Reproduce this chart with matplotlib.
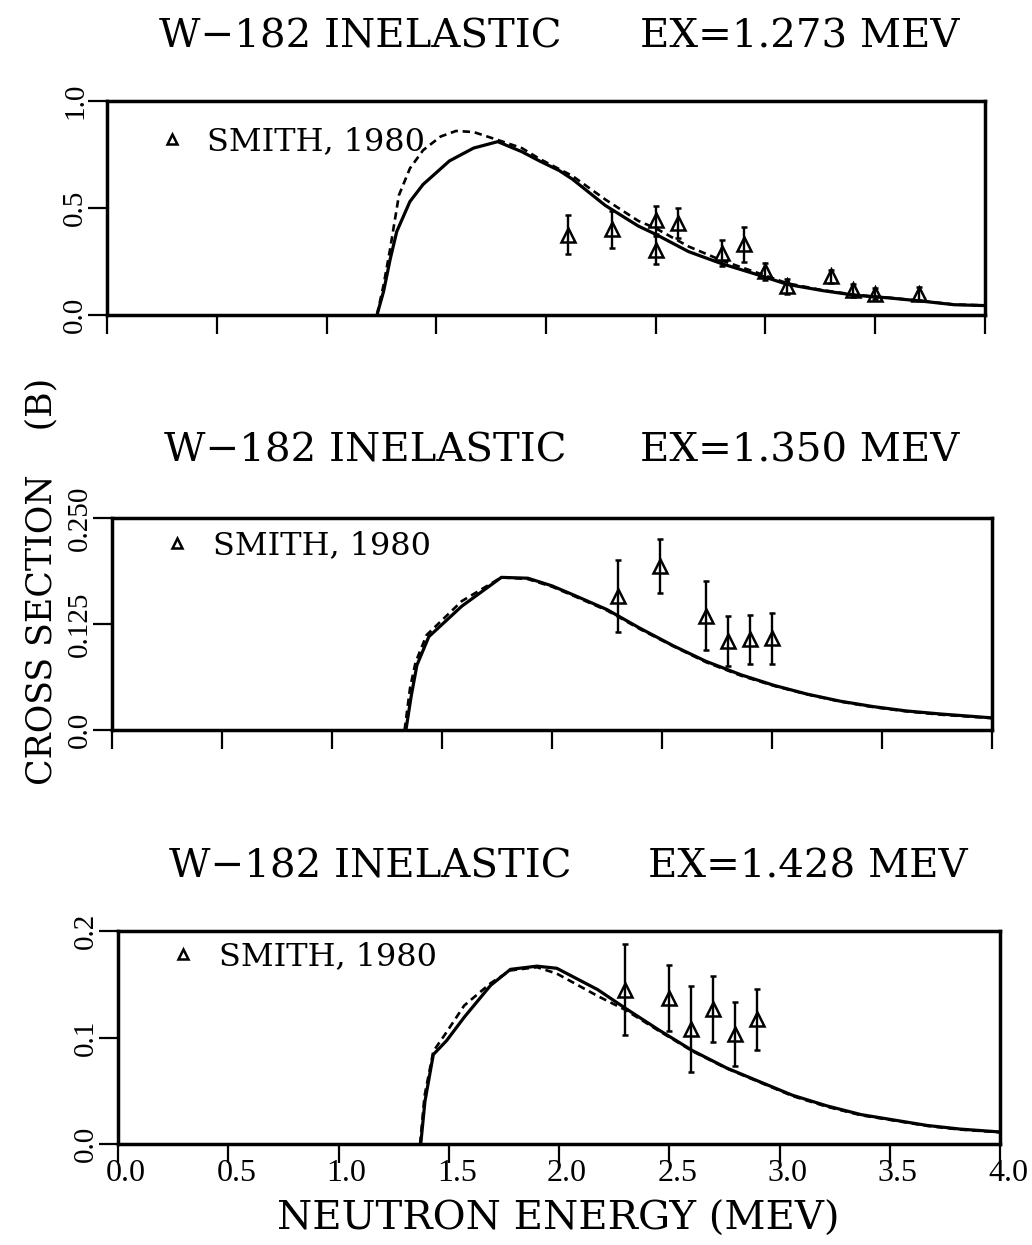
"""W-182 inelastic cross sections for three excitation levels, compared with Smith 1980."""

import matplotlib
matplotlib.use("Agg")
import matplotlib.pyplot as plt
from matplotlib.lines import Line2D
from matplotlib.transforms import ScaledTranslation

plt.rcParams["font.family"] = ["DejaVu Serif"]

# ---- panel 1 : EX = 1.273 MeV ----
p1_sol_x = [1.23, 1.26, 1.29, 1.32, 1.38, 1.44, 1.56, 1.67, 1.78, 1.89, 1.97, 2.06, 2.12,
            2.27, 2.42, 2.50, 2.65, 2.80, 2.955, 3.10, 3.26, 3.41, 3.56, 3.71, 3.86, 4.0]
p1_sol_y = [0.0, 0.11, 0.26, 0.39, 0.53, 0.61, 0.72, 0.78, 0.81, 0.763, 0.72, 0.675, 0.635,
            0.512, 0.416, 0.377, 0.296, 0.24, 0.191, 0.143, 0.114, 0.092, 0.08, 0.065, 0.048, 0.044]
p1_dash_x = [1.23, 1.26, 1.29, 1.33, 1.38, 1.44, 1.52, 1.59, 1.67, 1.78, 1.89, 1.97, 2.12,
             2.27, 2.42, 2.50, 2.65, 2.80, 2.955, 3.10, 3.26, 3.41, 3.56, 3.71, 3.86, 4.0]
p1_dash_y = [0.0, 0.14, 0.31, 0.56, 0.685, 0.77, 0.834, 0.86, 0.855, 0.818, 0.78, 0.73, 0.65,
             0.54, 0.44, 0.405, 0.32, 0.255, 0.20, 0.148, 0.116, 0.094, 0.081, 0.066, 0.049, 0.045]
p1_exp_x = [2.10, 2.30, 2.50, 2.50, 2.60, 2.80, 2.90, 3.00, 3.10, 3.30, 3.40, 3.50, 3.70]
p1_exp_y = [0.375, 0.40, 0.445, 0.305, 0.43, 0.29, 0.33, 0.205, 0.135, 0.18, 0.115, 0.10, 0.10]
p1_exp_err = [0.09, 0.085, 0.065, 0.065, 0.07, 0.06, 0.08, 0.04, 0.035, 0.03, 0.03, 0.025, 0.03]

# ---- panel 2 : EX = 1.350 MeV ----
p2_sol_x = [1.336, 1.36, 1.386, 1.44, 1.59, 1.77, 1.89, 2.0, 2.10, 2.25, 2.40, 2.55, 2.70,
            2.86, 3.01, 3.16, 3.31, 3.46, 3.61, 3.77, 4.0]
p2_sol_y = [0.0, 0.04, 0.0765, 0.11, 0.146, 0.18, 0.179, 0.17, 0.159, 0.142, 0.12, 0.0995, 0.081,
            0.065, 0.0526, 0.0423, 0.034, 0.0276, 0.0225, 0.0188, 0.0143]
p2_dash_x = [1.33, 1.355, 1.38, 1.43, 1.59, 1.77, 1.89, 2.0, 2.10, 2.25, 2.40, 2.55, 2.70,
             2.86, 3.01, 3.16, 3.31, 3.46, 3.61, 3.77, 4.0]
p2_dash_y = [0.0, 0.05, 0.08, 0.112, 0.152, 0.18, 0.178, 0.169, 0.158, 0.141, 0.119, 0.099, 0.08,
             0.064, 0.052, 0.042, 0.0335, 0.027, 0.022, 0.018, 0.014]
p2_exp_x = [2.30, 2.49, 2.70, 2.80, 2.90, 3.00]
p2_exp_y = [0.158, 0.193, 0.135, 0.105, 0.107, 0.108]
p2_exp_err = [0.043, 0.032, 0.041, 0.030, 0.029, 0.030]

# ---- panel 3 : EX = 1.428 MeV ----
p3_sol_x = [1.373, 1.392, 1.43, 1.49, 1.57, 1.69, 1.78, 1.90, 1.99, 2.175, 2.30, 2.455, 2.607,
            2.76, 2.91, 3.06, 3.215, 3.37, 3.52, 3.67, 3.82, 4.0]
p3_sol_y = [0.0, 0.04, 0.084, 0.097, 0.119, 0.149, 0.164, 0.167, 0.165, 0.145, 0.1276, 0.1068, 0.0875,
            0.0714, 0.0585, 0.0457, 0.0358, 0.0276, 0.0225, 0.0174, 0.014, 0.0113]
p3_dash_x = [1.37, 1.39, 1.43, 1.49, 1.57, 1.69, 1.78, 1.90, 1.99, 2.175, 2.30, 2.455, 2.607,
             2.76, 2.91, 3.06, 3.215, 3.37, 3.52, 3.67, 3.82, 4.0]
p3_dash_y = [0.0, 0.045, 0.087, 0.105, 0.13, 0.151, 0.163, 0.166, 0.16, 0.139, 0.126, 0.106, 0.087,
             0.071, 0.058, 0.045, 0.035, 0.027, 0.022, 0.017, 0.0135, 0.011]
p3_exp_x = [2.30, 2.50, 2.60, 2.70, 2.80, 2.90]
p3_exp_y = [0.145, 0.1375, 0.108, 0.127, 0.103, 0.117]
p3_exp_err = [0.0425, 0.031, 0.040, 0.031, 0.030, 0.029]

ex_levels = ["1.273", "1.350", "1.428"]
y_max = [1.0, 0.25, 0.2]
y_ticks = [[0.0, 0.5, 1.0], [0.0, 0.125, 0.25], [0.0, 0.1, 0.2]]
y_ticklabels = [["0.0", "0.5", "1.0"], ["0.0", "0.125", "0.250"], ["0.0", "0.1", "0.2"]]
x_ticks = [0.0, 0.5, 1.0, 1.5, 2.0, 2.5, 3.0, 3.5, 4.0]
x_ticklabels = ["0.0", "0.5", "1.0", "1.5", "2.0", "2.5", "3.0", "3.5", "4.0"]
legend_label = "SMITH, 1980"

panels = [
    (p1_sol_x, p1_sol_y, p1_dash_x, p1_dash_y, p1_exp_x, p1_exp_y, p1_exp_err),
    (p2_sol_x, p2_sol_y, p2_dash_x, p2_dash_y, p2_exp_x, p2_exp_y, p2_exp_err),
    (p3_sol_x, p3_sol_y, p3_dash_x, p3_dash_y, p3_exp_x, p3_exp_y, p3_exp_err),
]

W, H = 1032, 1245
# axes boxes in pixels: left, top, right, bottom
boxes = [(107, 101, 985, 315), (112, 518, 992, 730), (118, 931, 1000, 1144)]
title_px = [(159, 640, 47), (164, 640, 462), (169, 648, 878)]
legend_y = [0.81, 0.87, 0.88]

fig = plt.figure(figsize=(W / 100, H / 100), dpi=100)
tick_font = "Liberation Serif"

for i, (sx, sy, dx, dy, ex, ey, ee) in enumerate(panels):
    l, t, r, b = boxes[i]
    ax = fig.add_axes([l / W, 1 - b / H, (r - l) / W, (b - t) / H])
    ax.plot(dx, dy, color="black", lw=1.9, ls=(0, (2.8, 1.8)))
    ax.plot(sx, sy, color="black", lw=2.3)
    ax.errorbar(ex, ey, yerr=ee, fmt="^", ms=10.5, mfc="none", mec="black", mew=1.8,
                ecolor="black", elinewidth=1.7, capsize=2.5, capthick=1.7)

    ax.set_xlim(0, 4)
    ax.set_ylim(0, y_max[i])
    ax.set_xticks(x_ticks)
    ax.set_yticks(y_ticks[i])
    ax.set_yticklabels(y_ticklabels[i], rotation=90, va="center", fontfamily=tick_font)
    ax.tick_params(axis="both", direction="out", width=1.6)
    ax.tick_params(axis="x", length=14, labelsize=23)
    ax.tick_params(axis="y", length=13.5, labelsize=21, pad=0)
    for s in ax.spines.values():
        s.set_linewidth(2.5)

    if i == 2:
        ax.set_xticklabels(x_ticklabels, fontfamily=tick_font)
        ax.tick_params(axis="x", pad=-3)
        shift = ScaledTranslation(8 / 100, 0, fig.dpi_scale_trans)
        for tk in ax.xaxis.get_major_ticks():
            tk.label1.set_transform(tk.label1.get_transform() + shift)
    else:
        ax.tick_params(axis="x", labelbottom=False)

    handle = Line2D([], [], marker="^", ls="none", ms=6.5, mfc="none", mec="black", mew=1.8)
    ax.legend([handle], [legend_label], loc="center left", bbox_to_anchor=(0.0555, legend_y[i]),
              frameon=False, fontsize=23, handlelength=1.0, handletextpad=0.62,
              borderpad=0, borderaxespad=0, numpoints=1)

    xl, xr, yb = title_px[i]
    fig.text(xl / W, 1 - yb / H, "W\u2212182 INELASTIC", fontsize=29, ha="left", va="baseline")
    fig.text(xr / W, 1 - yb / H, f"EX={ex_levels[i]} MEV", fontsize=29, ha="left", va="baseline")

fig.text(51 / W, 1 - 581 / H, "CROSS SECTION    (B)", fontsize=25, rotation=90,
         rotation_mode="anchor", ha="center", va="baseline")
fig.text(558 / W, 1 - 1230 / H, "NEUTRON ENERGY (MEV)", fontsize=29, ha="center", va="baseline")

fig.savefig("out.png", dpi=100)
